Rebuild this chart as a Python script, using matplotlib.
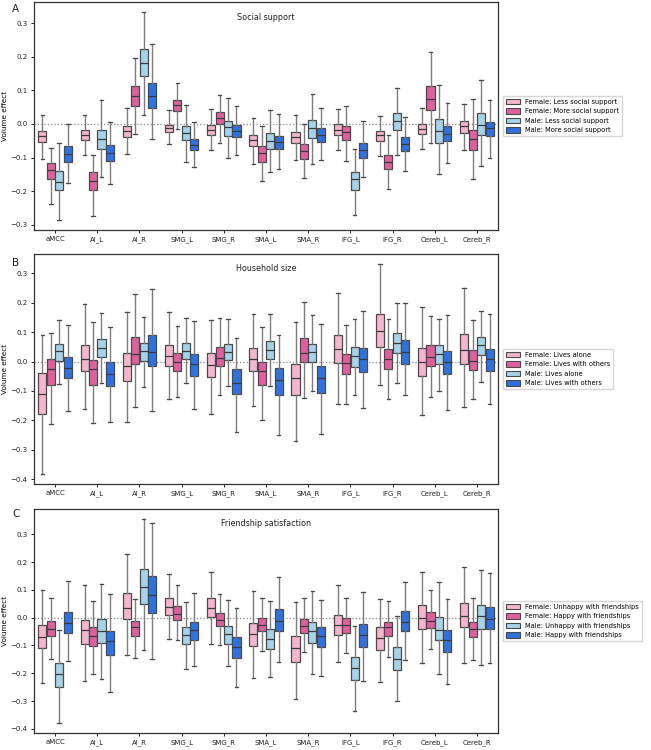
import matplotlib
matplotlib.use("Agg")
import matplotlib.pyplot as plt
from matplotlib.patches import Patch

# ---------------- data ----------------
regions = ["aMCC", "AI_L", "AI_R", "SMG_L", "SMG_R", "SMA_L", "SMA_R",
           "IFG_L", "IFG_R", "Cereb_L", "Cereb_R"]

# each entry: (whisker low, q1, median, q3, whisker high)
# Panel A: Social support
A_F_LESS = [(-0.104, -0.054, -0.035, -0.020, 0.026), (-0.094, -0.049, -0.033, -0.017, 0.026),
            (-0.089, -0.038, -0.022, -0.005, 0.046), (-0.061, -0.025, -0.012, -0.002, 0.042),
            (-0.077, -0.032, -0.019, -0.004, 0.044), (-0.120, -0.066, -0.047, -0.032, 0.017),
            (-0.107, -0.058, -0.038, -0.025, 0.027), (-0.079, -0.032, -0.017, 0.000, 0.044),
            (-0.095, -0.050, -0.033, -0.021, 0.024), (-0.076, -0.030, -0.015, 0.000, 0.047),
            (-0.077, -0.027, -0.005, 0.008, 0.059)]
A_F_MORE = [(-0.239, -0.165, -0.137, -0.115, -0.071), (-0.275, -0.196, -0.170, -0.142, -0.092),
            (-0.030, 0.054, 0.084, 0.114, 0.195), (-0.014, 0.037, 0.056, 0.072, 0.123),
            (-0.056, 0.000, 0.017, 0.035, 0.085), (-0.171, -0.112, -0.088, -0.067, -0.005),
            (-0.161, -0.103, -0.080, -0.060, 0.001), (-0.110, -0.047, -0.023, -0.005, 0.054),
            (-0.195, -0.135, -0.114, -0.093, -0.032), (-0.058, 0.041, 0.075, 0.113, 0.215),
            (-0.165, -0.077, -0.044, -0.019, 0.073)]
A_M_LESS = [(-0.285, -0.197, -0.172, -0.140, -0.056), (-0.158, -0.074, -0.044, -0.017, 0.072),
            (0.028, 0.143, 0.182, 0.222, 0.332), (-0.113, -0.049, -0.027, -0.006, 0.057),
            (-0.102, -0.035, -0.010, 0.010, 0.076), (-0.143, -0.074, -0.051, -0.027, 0.041),
            (-0.119, -0.041, -0.013, 0.012, 0.088), (-0.271, -0.196, -0.165, -0.143, -0.076),
            (-0.092, -0.019, 0.009, 0.033, 0.107), (-0.150, -0.056, -0.021, 0.014, 0.116),
            (-0.125, -0.034, -0.003, 0.033, 0.130)]
A_M_MORE = [(-0.175, -0.113, -0.089, -0.066, 0.000), (-0.180, -0.110, -0.087, -0.063, 0.007),
            (-0.046, 0.046, 0.082, 0.123, 0.238), (-0.129, -0.079, -0.062, -0.044, 0.006),
            (-0.093, -0.038, -0.020, -0.002, 0.052), (-0.135, -0.075, -0.054, -0.035, 0.029),
            (-0.108, -0.053, -0.033, -0.013, 0.046), (-0.157, -0.100, -0.077, -0.056, 0.010),
            (-0.141, -0.081, -0.059, -0.039, 0.021), (-0.115, -0.051, -0.029, -0.007, 0.061),
            (-0.101, -0.037, -0.012, 0.006, 0.070)]

# Panel B: Household size
B_F_ALONE = [(-0.381, -0.179, -0.109, -0.040, 0.090), (-0.162, -0.033, 0.010, 0.056, 0.197),
             (-0.206, -0.065, -0.014, 0.030, 0.170), (-0.129, -0.016, 0.019, 0.057, 0.168),
             (-0.177, -0.053, -0.011, 0.030, 0.141), (-0.151, -0.032, 0.007, 0.045, 0.161),
             (-0.271, -0.113, -0.055, -0.007, 0.134), (-0.143, -0.005, 0.041, 0.089, 0.232),
             (-0.080, 0.048, 0.105, 0.163, 0.330), (-0.182, -0.048, 0.000, 0.047, 0.185),
             (-0.154, -0.008, 0.038, 0.095, 0.249)]
B_F_OTHERS = [(-0.214, -0.080, -0.025, 0.008, 0.097), (-0.210, -0.080, -0.024, 0.006, 0.135),
              (-0.154, -0.010, 0.026, 0.085, 0.231), (-0.122, -0.033, -0.001, 0.029, 0.122),
              (-0.113, -0.015, 0.013, 0.049, 0.147), (-0.200, -0.079, -0.033, 0.000, 0.119),
              (-0.123, -0.001, 0.029, 0.079, 0.202), (-0.143, -0.042, -0.005, 0.025, 0.125),
              (-0.127, -0.025, 0.007, 0.042, 0.144), (-0.120, -0.014, 0.017, 0.057, 0.155),
              (-0.128, -0.029, 0.003, 0.040, 0.142)]
B_M_ALONE = [(-0.077, 0.003, 0.035, 0.059, 0.142), (-0.072, 0.016, 0.045, 0.075, 0.165),
             (-0.086, 0.003, 0.037, 0.064, 0.152), (-0.073, 0.009, 0.037, 0.064, 0.149),
             (-0.085, 0.006, 0.033, 0.061, 0.146), (-0.083, 0.009, 0.039, 0.070, 0.160),
             (-0.099, -0.002, 0.031, 0.059, 0.157), (-0.114, -0.017, 0.019, 0.048, 0.144),
             (-0.073, 0.029, 0.062, 0.097, 0.200), (-0.102, -0.007, 0.026, 0.055, 0.146),
             (-0.069, 0.023, 0.055, 0.083, 0.171)]
B_M_OTHERS = [(-0.169, -0.057, -0.021, 0.015, 0.125), (-0.205, -0.083, -0.042, -0.002, 0.118),
              (-0.169, -0.015, 0.034, 0.090, 0.248), (-0.160, -0.048, -0.008, 0.027, 0.138),
              (-0.240, -0.111, -0.072, -0.027, 0.080), (-0.250, -0.114, -0.063, -0.022, 0.090),
              (-0.247, -0.106, -0.055, -0.014, 0.128), (-0.159, -0.037, 0.007, 0.046, 0.171),
              (-0.115, -0.010, 0.031, 0.074, 0.200), (-0.165, -0.043, -0.003, 0.037, 0.158),
              (-0.145, -0.032, 0.008, 0.043, 0.160)]

# Panel C: Friendship satisfaction
C_F_UNHAPPY = [(-0.234, -0.108, -0.068, -0.026, 0.099), (-0.227, -0.095, -0.046, -0.007, 0.119),
               (-0.135, -0.006, 0.036, 0.089, 0.228), (-0.077, 0.009, 0.039, 0.069, 0.158),
               (-0.096, 0.004, 0.036, 0.069, 0.165), (-0.218, -0.102, -0.059, -0.019, 0.095),
               (-0.293, -0.158, -0.110, -0.066, 0.056), (-0.161, -0.063, -0.027, 0.009, 0.117),
               (-0.230, -0.116, -0.072, -0.035, 0.068), (-0.163, -0.039, 0.000, 0.045, 0.164),
               (-0.163, -0.033, 0.006, 0.054, 0.181)]
C_F_HAPPY = [(-0.147, -0.067, -0.039, -0.012, 0.069), (-0.203, -0.102, -0.066, -0.035, 0.059),
             (-0.146, -0.066, -0.034, -0.013, 0.068), (-0.079, -0.008, 0.013, 0.042, 0.119),
             (-0.100, -0.031, -0.008, 0.016, 0.086), (-0.119, -0.049, -0.026, -0.001, 0.069),
             (-0.124, -0.054, -0.029, -0.006, 0.069), (-0.127, -0.054, -0.027, -0.002, 0.070),
             (-0.142, -0.065, -0.035, -0.014, 0.061), (-0.114, -0.036, -0.012, 0.019, 0.099),
             (-0.151, -0.068, -0.040, -0.014, 0.069)]
C_M_UNHAPPY = [(-0.378, -0.249, -0.201, -0.163, -0.046), (-0.222, -0.092, -0.048, -0.006, 0.121),
               (-0.115, 0.050, 0.110, 0.174, 0.354), (-0.184, -0.095, -0.063, -0.034, 0.058),
               (-0.175, -0.093, -0.059, -0.029, 0.065), (-0.212, -0.114, -0.077, -0.042, 0.060),
               (-0.203, -0.092, -0.049, -0.014, 0.097), (-0.336, -0.223, -0.182, -0.141, -0.031),
               (-0.298, -0.187, -0.149, -0.107, 0.006), (-0.204, -0.082, -0.045, 0.001, 0.130),
               (-0.169, -0.042, 0.005, 0.045, 0.170)]
C_M_HAPPY = [(-0.156, -0.054, -0.019, 0.022, 0.133), (-0.269, -0.136, -0.083, -0.047, 0.086),
             (-0.147, 0.015, 0.081, 0.150, 0.339), (-0.173, -0.079, -0.043, -0.014, 0.087),
             (-0.250, -0.146, -0.106, -0.070, 0.035), (-0.158, -0.047, -0.011, 0.032, 0.147),
             (-0.211, -0.106, -0.067, -0.034, 0.065), (-0.227, -0.104, -0.062, -0.023, 0.094),
             (-0.154, -0.049, -0.014, 0.023, 0.129), (-0.239, -0.122, -0.079, -0.043, 0.067),
             (-0.163, -0.042, -0.005, 0.039, 0.161)]

panel_titles = ["Social support", "Household size", "Friendship satisfaction"]
panel_letters = ["A", "B", "C"]
legend_labels = [
    ["Female: Less social support", "Female: More social support",
     "Male: Less social support", "Male: More social support"],
    ["Female: Lives alone", "Female: Lives with others",
     "Male: Lives alone", "Male: Lives with others"],
    ["Female: Unhappy with friendships", "Female: Happy with friendships",
     "Male: Unhappy with friendships", "Male: Happy with friendships"],
]
panel_data = [
    [A_F_LESS, A_F_MORE, A_M_LESS, A_M_MORE],
    [B_F_ALONE, B_F_OTHERS, B_M_ALONE, B_M_OTHERS],
    [C_F_UNHAPPY, C_F_HAPPY, C_M_UNHAPPY, C_M_HAPPY],
]

# ---------------- style ----------------
colors = ["#F5B5CE", "#E0609E", "#A7D3E8", "#2E72E2"]
edge_col = "#4a4a4a"
whisk_col = "#7c7c7c"
median_col = "#3a3a3a"

fig = plt.figure(figsize=(6.51, 7.5), dpi=100)
ax_boxes = [
    [0.0522, 0.6933, 0.7128, 0.3040],
    [0.0522, 0.3547, 0.7128, 0.3066],
    [0.0522, 0.0227, 0.7128, 0.2986],
]
letter_y = [0.988, 0.650, 0.315]

n_groups = 4
group_w = 0.8 / n_groups
box_w = group_w * 0.96

for p in range(3):
    ax = fig.add_axes(ax_boxes[p])
    for g, series in enumerate(panel_data[p]):
        offset = -0.4 + group_w * (g + 0.5)
        stats = []
        for lo, q1, med, q3, hi in series:
            stats.append(dict(whislo=lo, q1=q1, med=med, q3=q3, whishi=hi, fliers=[]))
        positions = [i + offset for i in range(len(regions))]
        ax.bxp(stats, positions=positions, widths=box_w, patch_artist=True,
               showfliers=False, manage_ticks=False, capwidths=box_w * 0.45,
               boxprops=dict(facecolor=colors[g], edgecolor=edge_col, linewidth=0.9),
               whiskerprops=dict(color=whisk_col, linewidth=1.0),
               capprops=dict(color=edge_col, linewidth=0.9),
               medianprops=dict(color=median_col, linewidth=0.9))
    ax.axhline(0, color="#888888", linestyle=":", linewidth=0.9, zorder=0)
    ax.set_xlim(-0.5, len(regions) - 0.5)
    ax.set_xticks(range(len(regions)))
    ax.set_xticklabels(regions)
    ax.set_ylabel("Volume effect", fontsize=5.2, labelpad=2)
    ax.tick_params(axis="both", labelsize=5, length=2.5, width=0.7, pad=2,
                   colors="#222222")
    for s in ax.spines.values():
        s.set_linewidth(0.9)
        s.set_color("#333333")
    ax.text(0.5, 0.93 if p == 0 else 0.935, panel_titles[p], transform=ax.transAxes,
            ha="center", va="center", fontsize=5.8, color="#222222")
    handles = [Patch(facecolor=colors[g], edgecolor=edge_col, linewidth=0.8)
               for g in range(n_groups)]
    ax.legend(handles, legend_labels[p], loc="center left", bbox_to_anchor=(1.006, 0.5),
              fontsize=4.8, frameon=True, fancybox=False, edgecolor="#cccccc",
              handlelength=2.1, handleheight=0.9, borderpad=0.45, labelspacing=0.5,
              handletextpad=0.8, borderaxespad=0.3)
    fig.text(0.019, letter_y[p], panel_letters[p], fontsize=7.5, ha="left", va="center",
             color="#222222")

fig.savefig("out.png", dpi=100)
